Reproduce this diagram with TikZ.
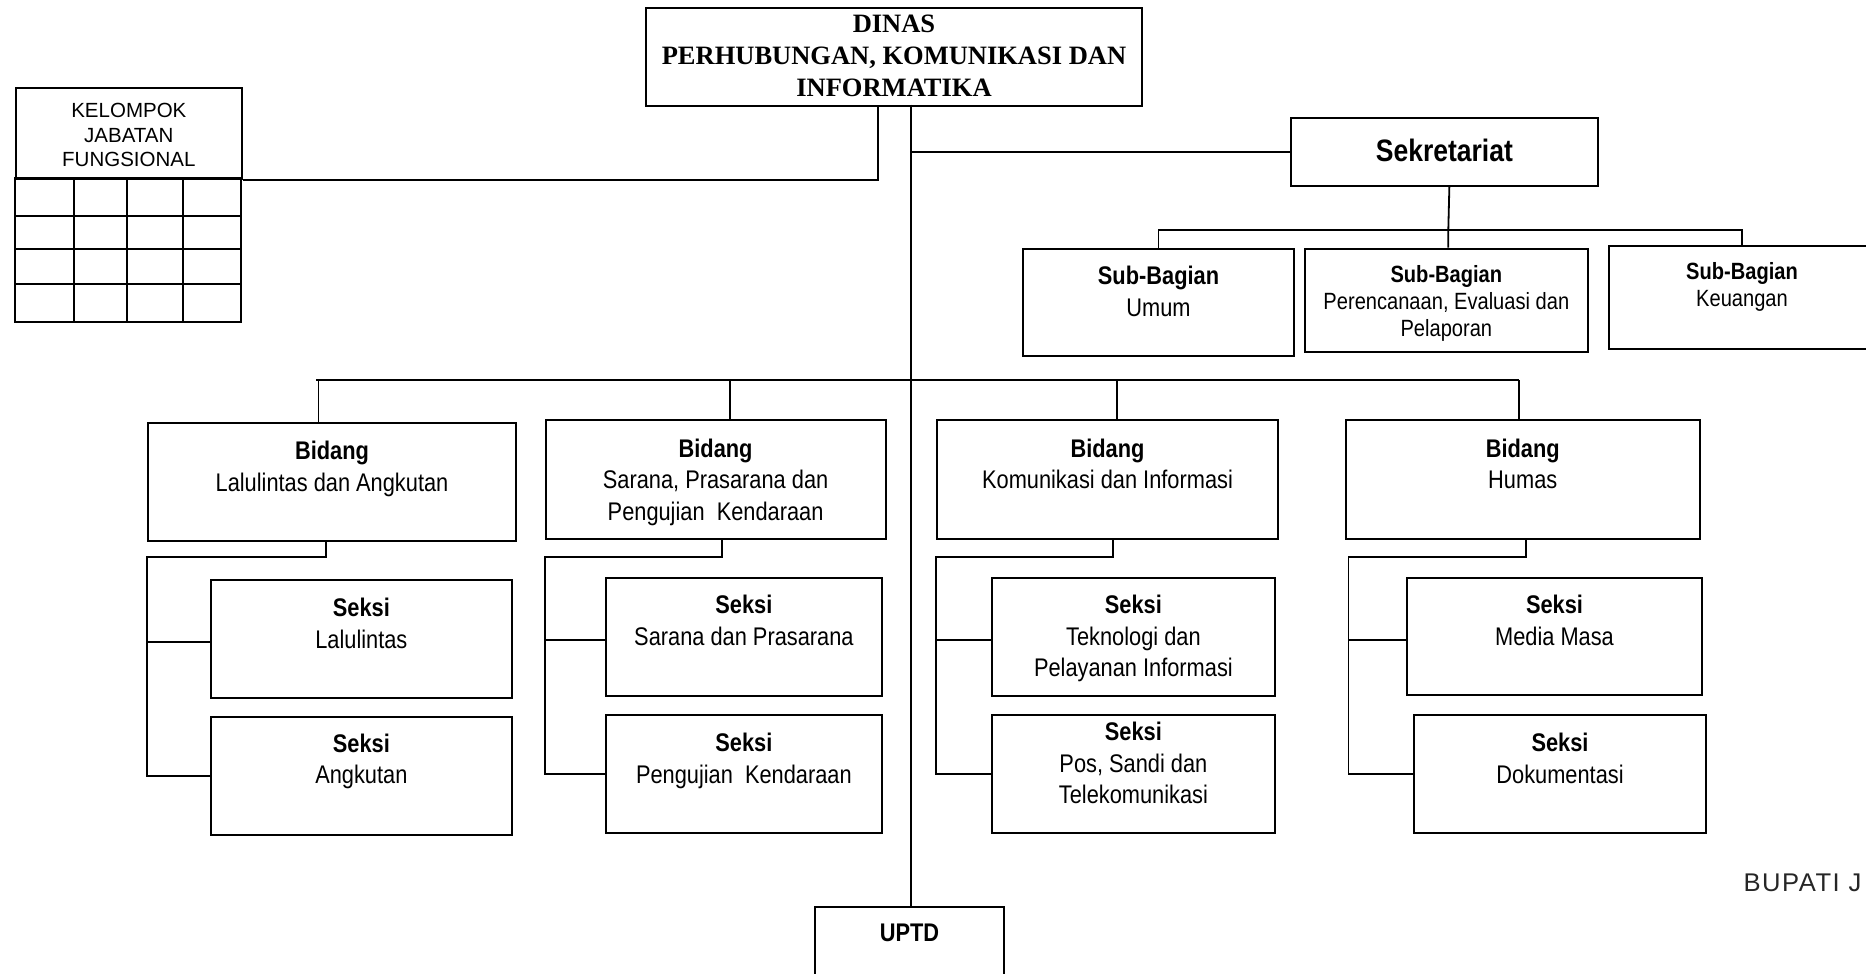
\documentclass[tikz,border=0pt]{standalone}
\usepackage{fontspec}
\newfontfamily\orgfont[FakeStretch=0.855]{Liberation Sans}
\newfontfamily\plainsans{Liberation Sans}
\newfontfamily\spacedsans[LetterSpace=6]{Liberation Sans}
\newfontfamily\headfont{Liberation Serif}
% text block of fixed size, lines hung from the top
\newcommand{\cellbox}[4]{\parbox[c][#2][t]{#1}{\centering\vspace*{#3}#4\par}}

\begin{document}
\begin{tikzpicture}[x=1pt,y=-1pt,
    unit/.style={draw, line width=2pt, inner sep=0pt, anchor=north west},
    bidfont/.style={font=\orgfont\fontsize{25.5}{31.6}\selectfont},
    subfont/.style={font=\orgfont\fontsize{23.5}{27}\selectfont},
    link/.style={line width=1.8pt}]
    \useasboundingbox (0,0) rectangle (1866,974);
    \clip (0,0) rectangle (1866,974);

    % head of the office
    \node[unit, font=\headfont\bfseries\fontsize{26.5}{32}\selectfont] (dinas) at (645,7.5)
        {\cellbox{496pt}{97pt}{6pt}{DINAS\\PERHUBUNGAN, KOMUNIKASI DAN\\INFORMATIKA}};

    % functional group with its table
    \node[unit, font=\plainsans\fontsize{20.5}{24.6}\selectfont] (kjf) at (15,87.3)
        {\cellbox{225.7pt}{91pt}{15pt}{KELOMPOK\\JABATAN\\FUNGSIONAL}};
    \begin{scope}[line width=2pt]
        \draw (15,178.3) rectangle (240.7,322);
        \foreach \y in {215.7,249.3,284}
            \draw (15,\y) -- (240.7,\y);
        \foreach \x in {73.5,126.7,182.7}
            \draw (\x,178.3) -- (\x,322);
    \end{scope}

    % secretariat and its sub-sections
    \node[unit, font=\orgfont\bfseries\fontsize{31}{36}\selectfont] (sek) at (1290,116.7)
        {\cellbox{306.7pt}{68.3pt}{21pt}{Sekretariat}};
    \node[unit, bidfont] (sbu) at (1022,247.5)
        {\cellbox{271pt}{107pt}{17.5pt}{\textbf{Sub-Bagian}\\Umum}};
    \node[unit, subfont] (sbp) at (1304,247.7)
        {\cellbox{282.7pt}{103.3pt}{17pt}{\textbf{Sub-Bagian}\\Perencanaan, Evaluasi dan\\Pelaporan}};
    \node[unit, subfont] (sbk) at (1607.7,245)
        {\cellbox{266.6pt}{103.3pt}{16.7pt}{\textbf{Sub-Bagian}\\Keuangan}};

    % fields
    \node[unit, bidfont] (bid1) at (147,422)
        {\cellbox{368pt}{117.5pt}{18pt}{\textbf{Bidang}\\Lalulintas dan Angkutan}};
    \node[unit, bidfont] (bid2) at (544.6,419.3)
        {\cellbox{340pt}{119pt}{18.6pt}{\textbf{Bidang}\\Sarana, Prasarana dan\\Pengujian~ Kendaraan}};
    \node[unit, bidfont] (bid3) at (936,419.3)
        {\cellbox{341pt}{119pt}{18.6pt}{\textbf{Bidang}\\Komunikasi dan Informasi}};
    \node[unit, bidfont] (bid4) at (1345,419.3)
        {\cellbox{353.5pt}{119pt}{18.6pt}{\textbf{Bidang}\\Humas}};

    % sections
    \node[unit, bidfont] (sks11) at (210,579)
        {\cellbox{300.7pt}{117.7pt}{18pt}{\textbf{Seksi}\\Lalulintas}};
    \node[unit, bidfont] (sks12) at (210,716)
        {\cellbox{300.7pt}{118pt}{16.6pt}{\textbf{Seksi}\\Angkutan}};
    \node[unit, bidfont] (sks21) at (604.8,577)
        {\cellbox{276.2pt}{117.7pt}{17pt}{\textbf{Seksi}\\Sarana dan Prasarana}};
    \node[unit, bidfont] (sks22) at (604.8,714)
        {\cellbox{276.2pt}{118pt}{18pt}{\textbf{Seksi}\\Pengujian~ Kendaraan}};
    \node[unit, bidfont] (sks31) at (991.3,577)
        {\cellbox{282.2pt}{117.7pt}{17pt}{\textbf{Seksi}\\Teknologi dan\\Pelayanan Informasi}};
    \node[unit, bidfont] (sks32) at (991.3,714)
        {\cellbox{282.2pt}{118pt}{7pt}{\textbf{Seksi}\\Pos, Sandi dan\\Telekomunikasi}};
    \node[unit, bidfont] (sks41) at (1406,577)
        {\cellbox{295pt}{117.3pt}{17pt}{\textbf{Seksi}\\Media Masa}};
    \node[unit, bidfont] (sks42) at (1413,714)
        {\cellbox{292pt}{118.3pt}{18pt}{\textbf{Seksi}\\Dokumentasi}};

    % technical unit
    \node[unit, bidfont] (uptd) at (814.3,906)
        {\cellbox{188.4pt}{90pt}{17.3pt}{\textbf{UPTD}}};

    \node[anchor=base west, inner sep=0pt, text=black!85, font=\spacedsans\fontsize{25.6}{30}\selectfont]
        (bupati) at (1743.3,891.7) {BUPATI J};

    % connectors
    \coordinate (spine) at (911,104.5);
    \coordinate (kjfup) at (877.7,104.5);
    \coordinate (sbbar) at (1448.3,230);
    \begin{scope}[link]
        \draw (spine) -- (spine |- uptd.north);
        \draw (kjf.south east) -| (kjfup);
        \draw (spine |- sek.west) -- (sek.west);

        \draw ([xshift=5pt]sek.south) -- (sbbar) -- (sbbar |- sbp.north);
        \draw (sbu.north) |- (sbk.north |- sbbar) -- (sbk.north);

        \draw (316,380) -- (1519,380);
        \foreach \x/\b in {318.5/bid1, 729.8/bid2, 1117/bid3, 1519/bid4}
            \draw (\x,380) -- (\x,380 |- \b.north);

        \foreach \b/\sx/\spx/\sa/\sb in {bid1/325.6/147/sks11/sks12,
                bid2/722/544.6/sks21/sks22, bid3/1113/936/sks31/sks32,
                bid4/1526/1348.5/sks41/sks42} {
            \path ([yshift=-3pt]\sa.west) coordinate (stub);
            \draw (\sx,0 |- \b.south) |- (\spx,557) |- (\sb.west);
            \draw (\spx,0 |- stub) -- (stub);
        }
    \end{scope}
\end{tikzpicture}
\end{document}
